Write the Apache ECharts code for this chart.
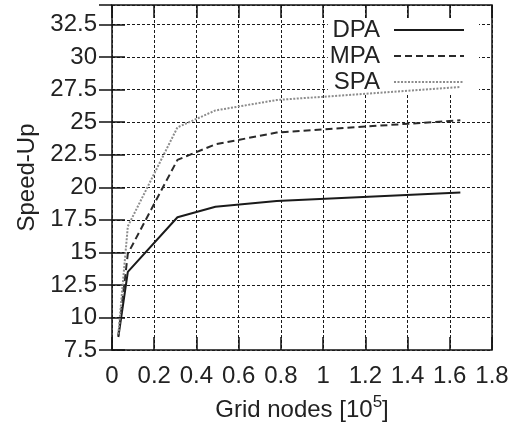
<!DOCTYPE html>
<html>
<head>
<meta charset="utf-8">
<script src="https://cdn.jsdelivr.net/npm/echarts@6/dist/echarts.min.js"></script>
<style>
  html, body { margin: 0; padding: 0; background: #fff; }
  #chart { width: 516px; height: 427px; }
</style>
</head>
<body>
<div id="chart"></div>
<script>
// grid nodes in units of 10^5
const nodes = [0.03, 0.075, 0.31, 0.49, 0.78, 1.65];
const dpa = [8.5, 13.5, 17.7, 18.5, 18.95, 19.6];
const mpa = [8.6, 14.9, 22.1, 23.3, 24.2, 25.15];
const spa = [8.7, 17.0, 24.6, 25.9, 26.7, 27.7];
const seriesNames = ['DPA', 'MPA', 'SPA'];

const myChart = echarts.init(document.getElementById('chart'));

const font = 'Liberation Sans, Arial, sans-serif';
const pairs = vals => nodes.map((x, i) => [x, vals[i]]);

const tickStyle = { show: true, inside: true, length: 13, lineStyle: { color: '#111', width: 1.5 } };
const gridLine = { show: true, lineStyle: { color: '#1a1a1a', width: 1, type: [3, 2] } };

function makeLine(name, vals, color, type, width) {
    return {
        name: name,
        type: 'line',
        data: pairs(vals),
        symbol: 'none',
        xAxisIndex: 0,
        yAxisIndex: 0,
        lineStyle: { color: color, type: type, width: width },
        itemStyle: { color: color },
        z: 3
    };
}

const option = {
    animation: false,
    grid: {
        left: 112, right: 24, top: 5, bottom: 77,
        show: true, borderColor: '#111', borderWidth: 1.5,
        backgroundColor: 'transparent',
        outerBoundsMode: 'none'
    },
    legend: {
        data: seriesNames,
        orient: 'vertical',
        align: 'right',
        right: 37,
        top: 18,
        z: 2,
        padding: [0, 14, 0, 2],
        itemGap: 2,
        itemWidth: 70,
        itemHeight: 10,
        backgroundColor: '#fff',
        itemStyle: { opacity: 0 },
        textStyle: {
            fontFamily: font, fontSize: 24, color: '#222',
            width: 54, align: 'right', padding: [0, 9, 0, 0]
        }
    },
    xAxis: [
        {
            type: 'value', min: 0, max: 1.8, interval: 0.2, position: 'bottom',
            name: '{a|Grid nodes [10}{sup|5}{a|]}',
            nameLocation: 'middle', nameGap: 44,
            nameTextStyle: {
                rich: {
                    a: { fontFamily: font, fontSize: 24, color: '#222', lineHeight: 28, verticalAlign: 'bottom' },
                    sup: { fontFamily: font, fontSize: 17, color: '#222', lineHeight: 17, verticalAlign: 'top' }
                }
            },
            axisLine: { show: false },
            axisTick: tickStyle,
            axisLabel: { fontFamily: font, fontSize: 24, color: '#222', margin: 14 },
            splitLine: gridLine
        },
        {
            type: 'value', min: 0, max: 1.8, interval: 0.2, position: 'top',
            axisLine: { show: false },
            axisTick: tickStyle,
            axisLabel: { show: false },
            splitLine: { show: false }
        }
    ],
    yAxis: [
        {
            type: 'value', min: 7.5, max: 34, interval: 2.5, position: 'left',
            name: 'Speed-Up', nameLocation: 'middle', nameGap: 73,
            nameTextStyle: { fontFamily: font, fontSize: 24, color: '#222' },
            axisLine: { show: false },
            axisTick: tickStyle,
            axisLabel: { fontFamily: font, fontSize: 24, color: '#222', margin: 15, showMaxLabel: false },
            splitLine: gridLine
        },
        {
            type: 'value', min: 7.5, max: 34, interval: 2.5, position: 'right',
            axisLine: { show: false },
            axisTick: tickStyle,
            axisLabel: { show: false },
            splitLine: { show: false }
        }
    ],
    series: [
        makeLine('DPA', dpa, '#1a1a1a', 'solid', 2),
        makeLine('MPA', mpa, '#2a2a2a', [7, 4], 2),
        makeLine('SPA', spa, '#8c8c8c', [2, 1.5], 2)
    ]
};

myChart.setOption(option);
window.addEventListener('resize', function () {
    myChart.resize();
});
</script>
</body>
</html>
